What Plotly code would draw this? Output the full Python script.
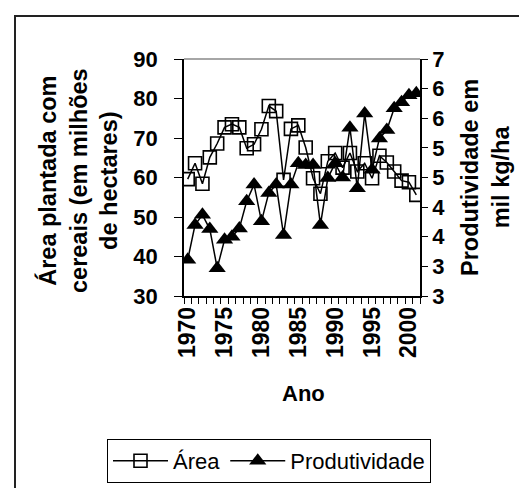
import plotly.graph_objects as go

anos = list(range(1970, 2002))
area = [59.6, 63.6, 58.4, 65.1, 68.6, 72.7, 73.5, 72.7, 67.4, 68.4,
        72.2, 78.1, 76.8, 59.4, 72.3, 73.2, 67.6, 59.8, 55.9, 64.1,
        66.2, 62.5, 66.2, 61.5, 63.6, 59.8, 65.5, 63.8, 61.5, 59.2,
        58.8, 55.6]
produtividade = [3.61, 4.20, 4.37, 4.13, 3.47, 3.95, 4.00, 4.14, 4.60, 4.88,
                 4.26, 4.74, 4.88, 4.03, 4.88, 5.24, 5.21, 5.21, 4.20, 4.99,
                 5.24, 5.00, 5.84, 4.82, 6.08, 5.13, 5.66, 5.80, 6.17, 6.27,
                 6.39, 6.42]
x_ticks = [1970, 1975, 1980, 1985, 1990, 1995, 2000]
left_ticks = [30, 40, 50, 60, 70, 80, 90]
right_ticks = [3, 3.5, 4, 4.5, 5, 5.5, 6, 6.5, 7]
right_text = ["3", "3", "4", "4", "5", "5", "6", "6", "7"]

W, H = 527, 488
L, R, T, B = 176, 115, 51, 200
pw, ph = W - L - R, H - T - B

def px(xp):
    return (xp - L) / pw

def py(yp):
    return (H - B - yp) / ph

FONT = "Liberation Sans, Arial, sans-serif"
bold = dict(family=FONT, size=22, color="black", weight="bold")
bold_x = dict(family=FONT, size=23, color="black", weight="bold")
bold_t = dict(family=FONT, size=23.5, color="black", weight="bold")

fig = go.Figure()
fig.add_trace(go.Scatter(
    x=anos, y=area, name="Área", mode="lines+markers",
    line=dict(color="black", width=1.5),
    marker=dict(symbol="square-open", size=13, color="black", line=dict(width=1.6)),
    yaxis="y"))
fig.add_trace(go.Scatter(
    x=anos, y=produtividade, name="Produtividade", mode="lines+markers",
    line=dict(color="black", width=1.5),
    marker=dict(symbol="triangle-up", size=15, color="black"),
    yaxis="y2"))

minor_vals = [a - 0.5 for a in anos] + [anos[-1] + 0.5]
xr = [anos[0] - 0.5, anos[-1] + 0.5]

fig.update_layout(
    width=W, height=H,
    margin=dict(l=L, r=R, t=T, b=B, autoexpand=False),
    paper_bgcolor="white", plot_bgcolor="white",
    font=dict(family=FONT, color="black"),
    xaxis=dict(range=xr, tickvals=x_ticks, tickangle=-90, ticks="", automargin=False,
               tickfont=bold_x, showline=True, linecolor="black", linewidth=1.5,
               showgrid=False, zeroline=False, ticklabelstandoff=0,
               minor=dict(tickvals=minor_vals, ticks="outside", ticklen=6,
                          tickcolor="black", tickwidth=1, showgrid=False)),
    xaxis2=dict(range=xr, overlaying="x", anchor="y", showticklabels=False,
                showline=False, showgrid=False, zeroline=False, ticks="",
                minor=dict(tickvals=minor_vals, ticks="inside", ticklen=6,
                           tickcolor="black", tickwidth=1, showgrid=False)),
    yaxis=dict(range=[30, 90], tickvals=left_ticks, ticks="outside", ticklen=8,
               tickcolor="black", tickfont=bold, showline=True, linecolor="black",
               linewidth=1.5, showgrid=False, zeroline=False, ticklabelstandoff=12,
               automargin=False),
    yaxis2=dict(range=[3, 7], tickvals=right_ticks, ticktext=right_text,
                overlaying="y", side="right", ticks="outside", ticklen=6,
                tickcolor="black", tickfont=bold, showline=True, linecolor="black",
                linewidth=1.5, showgrid=False, zeroline=False, ticklabelstandoff=0,
                automargin=False),
    yaxis3=dict(range=[30, 90], tickvals=left_ticks, overlaying="y", side="left",
                ticks="inside", ticklen=7, tickcolor="black", showticklabels=False,
                showline=False, showgrid=False, zeroline=False),
    yaxis4=dict(range=[3, 7], tickvals=right_ticks, overlaying="y", side="right",
                ticks="inside", ticklen=7, tickcolor="black", showticklabels=False,
                showline=False, showgrid=False, zeroline=False),
    showlegend=True,
    legend=dict(orientation="h", x=px(99), xanchor="left", y=py(431), yanchor="top",
                bordercolor="black", borderwidth=1, bgcolor="white",
                font=dict(family=FONT, size=22, color="black"),
                itemwidth=55, tracegroupgap=0),
)

fig.add_annotation(text="Área plantada com<br>cereais (em milhões<br>de hectares)",
                   x=px(70), y=py(173), xref="paper", yref="paper", textangle=-90,
                   xanchor="center", yanchor="middle",
                   showarrow=False, font=bold_t, align="center")
fig.add_annotation(text="Produtividade em<br>mil kg/ha",
                   x=px(477), y=py(170), xref="paper", yref="paper", textangle=-90,
                   xanchor="center", yanchor="middle",
                   showarrow=False, font=bold_t, align="center")
fig.add_annotation(text="Ano", x=px(295), y=py(385), xref="paper", yref="paper",
                   xanchor="center", yanchor="middle",
                   showarrow=False, font=bold)

# top border of plot area (gray)
fig.add_shape(type="line", xref="paper", yref="paper", x0=0, x1=1, y0=1, y1=1,
              line=dict(color="#888888", width=1.5))
# chart area frame
fig.add_shape(type="rect", xref="paper", yref="paper",
              x0=px(7), x1=px(520), y0=py(492), y1=py(8),
              line=dict(color="#222222", width=2), layer="below")

fig.write_html("out.html")
